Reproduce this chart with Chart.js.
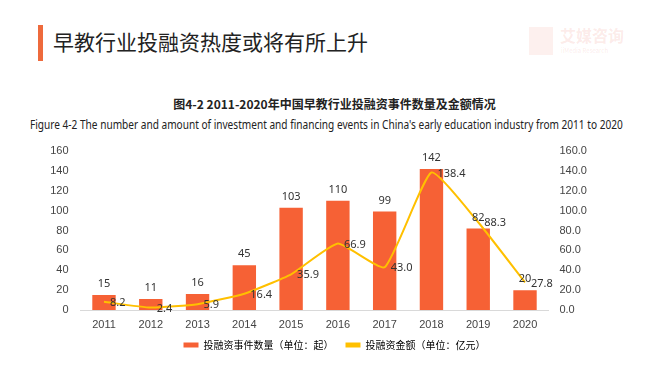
<!DOCTYPE html>
<html>
<head>
<meta charset="utf-8">
<script src="https://cdn.jsdelivr.net/npm/chart.js@4"></script>
<style>
  body { margin: 0; background: #fff; font-family: "Noto Sans CJK SC", "Noto Sans", sans-serif; }
  #wrap { position: relative; width: 669px; height: 371px; overflow: hidden; }
  #bar { position: absolute; left: 38px; top: 25px; width: 5px; height: 36px; background: #ee6a3c; }
  #head { position: absolute; left: 53px; top: 26px; font-size: 21px; line-height: 30px; color: #222; white-space: nowrap; }
  #logo { position: absolute; left: 529px; top: 27px; color: rgba(235,110,90,0.14); white-space: nowrap; }
  #logo .box { position: absolute; left: 0; top: 0; width: 24px; height: 28px; background: rgba(235,110,90,0.10); }
  #logo .t1 { position: absolute; left: 31px; top: -4px; font-size: 16px; font-weight: bold; }
  #logo .t2 { position: absolute; left: 32px; top: 19px; font-size: 6px; }
  #title { position: absolute; left: 0; width: 669px; top: 95px; text-align: center; font-size: 12px; font-weight: bold; color: #222; }
  #sub { position: absolute; left: 30px; top: 116px; font-size: 12px; color: #222; white-space: nowrap; transform-origin: 0 0; font-family: "Noto Sans", sans-serif; }
  canvas { position: absolute; left: 0; top: 0; }
</style>
</head>
<body>
<div id="wrap">
  <div id="bar"></div>
  <div id="head">早教行业投融资热度或将有所上升</div>
  <div id="logo"><div class="box"></div><div class="t1">艾媒咨询</div><div class="t2">iiMedia Research</div></div>
  <div id="title">图4-2 2011-2020年中国早教行业投融资事件数量及金额情况</div>
  <div id="sub">Figure 4-2 The number and amount of investment and financing events in China's early education industry from 2011 to 2020</div>
  <canvas id="c" width="669" height="371"></canvas>
</div>
<script>
const years = ['2011','2012','2013','2014','2015','2016','2017','2018','2019','2020'];
const eventCount = [15, 11, 16, 45, 103, 110, 99, 142, 82, 20];
const amount = [8.2, 2.4, 5.9, 16.4, 35.9, 66.9, 43.0, 138.4, 88.3, 27.8];

// squeeze the english subtitle to the width used in the picture
const sub = document.getElementById('sub');
sub.style.transform = 'scaleX(' + (593 / sub.offsetWidth) + ')';

// value labels: counts above bars, amounts right of points
const labelPlugin = {
  id: 'valueLabels',
  afterDatasetsDraw(chart) {
    const ctx = chart.ctx;
    ctx.save();
    ctx.font = '11px "Noto Sans", sans-serif';
    ctx.fillStyle = '#333';
    ctx.textBaseline = 'middle';
    chart.getDatasetMeta(0).data.forEach((el, i) => {
      ctx.textAlign = 'center';
      ctx.fillText(eventCount[i], el.x, el.y - 11);
    });
    chart.getDatasetMeta(1).data.forEach((el, i) => {
      ctx.textAlign = 'left';
      ctx.fillText(amount[i].toFixed(1), el.x + 6, el.y + 1);
    });
    ctx.restore();
  }
};

new Chart(document.getElementById('c'), {
  data: {
    labels: years,
    datasets: [
      {
        type: 'bar',
        label: '投融资事件数量（单位：起）',
        data: eventCount,
        backgroundColor: '#f66135',
        yAxisID: 'y',
        barPercentage: 0.5,
        categoryPercentage: 1,
        order: 2
      },
      {
        type: 'line',
        label: '投融资金额（单位：亿元）',
        data: amount,
        borderColor: '#ffc000',
        backgroundColor: '#ffc000',
        borderWidth: 2,
        pointRadius: 0,
        tension: 0.15,
        yAxisID: 'y1',
        order: 1
      }
    ]
  },
  options: {
    responsive: false,
    animation: false,
    layout: { padding: { top: 151, left: 0, right: 0, bottom: 11 } },
    plugins: {
      tooltip: { enabled: false },
      legend: {
        position: 'bottom',
        labels: {
          font: { size: 10, family: '"Noto Sans CJK SC", sans-serif' },
          color: '#333',
          boxWidth: 15,
          boxHeight: 5,
          padding: 12,
          generateLabels(chart) {
            return chart.data.datasets.map((ds, i) => ({
              text: ds.label,
              fillStyle: ds.type === 'bar' ? ds.backgroundColor : ds.borderColor,
              strokeStyle: ds.type === 'bar' ? ds.backgroundColor : ds.borderColor,
              lineWidth: 0,
              datasetIndex: i
            }));
          }
        }
      }
    },
    scales: {
      x: {
        grid: { display: false, drawTicks: false },
        border: { color: '#d9d9d9' },
        ticks: { color: '#444', font: { size: 11 }, padding: 8 },
        afterFit(s) { s.height = 18; }
      },
      y: {
        position: 'left',
        min: 0, max: 160,
        grid: { display: false, drawTicks: false },
        border: { display: false },
        ticks: { stepSize: 20, color: '#444', font: { size: 11 }, padding: 12 },
        afterFit(s) { s.width = 80.6; }
      },
      y1: {
        position: 'right',
        min: 0, max: 160,
        grid: { display: false, drawTicks: false },
        border: { display: false },
        ticks: { stepSize: 20, color: '#444', font: { size: 11 }, padding: 11,
          callback: v => v.toFixed(1) },
        afterFit(s) { s.width = 120.6; }
      }
    }
  },
  plugins: [labelPlugin]
});
</script>
</body>
</html>
